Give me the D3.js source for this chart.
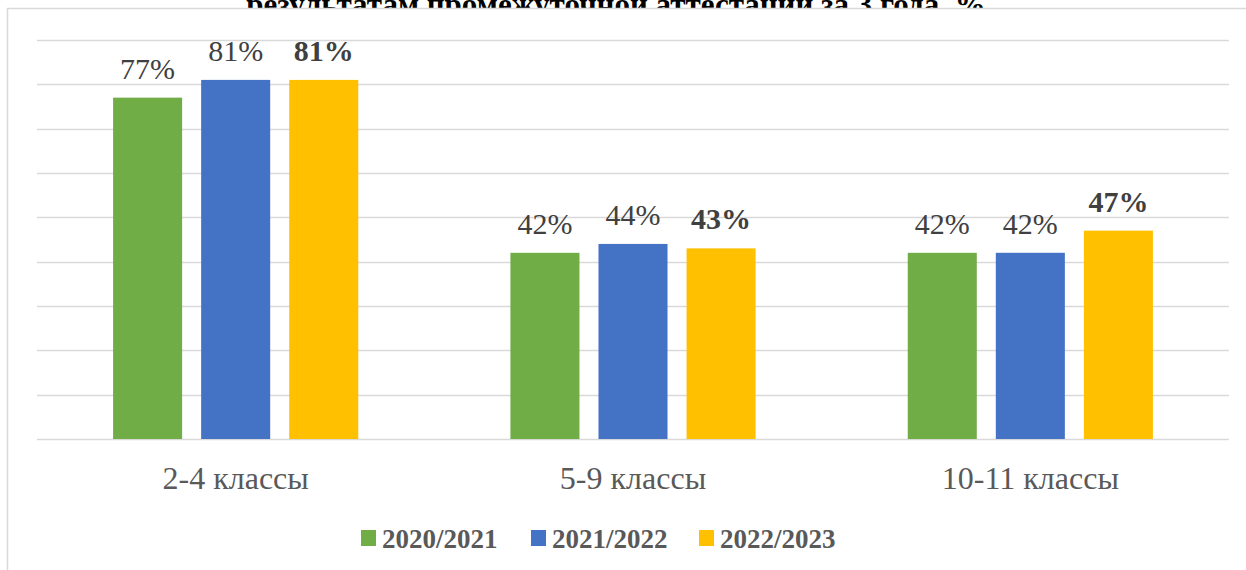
<!DOCTYPE html>
<html>
<head>
<meta charset="utf-8">
<script src="https://cdn.jsdelivr.net/npm/d3@7"></script>
<style>
  body { margin: 0; background: #fff; }
  svg { display: block; }
</style>
</head>
<body>
<div id="container"></div>
<script>
const width = 1246,
  height = 570,
  margin = { top: 40, bottom: 131, left: 37, right: 17 };

const categories = ["2-4 классы", "5-9 классы", "10-11 классы"];
const years = ["2020/2021", "2021/2022", "2022/2023"];
const colors = ["#70ad47", "#4472c4", "#ffc000"];
const values2020 = [77, 42, 42];
const values2021 = [81, 44, 42];
const values2022 = [81, 43, 47];
const series = [values2020, values2021, values2022];
const yTicks = [0, 10, 20, 30, 40, 50, 60, 70, 80, 90];

const serif = '"Liberation Serif"';

const svg = d3.select("#container")
  .append("svg")
  .attr("width", width)
  .attr("height", height)

// title - the chart box covers its lower half, like in the document
svg.append("text")
  .attr("x", 616)
  .attr("y", 15)
  .attr("text-anchor", "middle")
  .style("font-family", serif)
  .style("font-weight", "bold")
  .style("font-size", "31px")
  .style("fill", "#000")
  .text("результатам промежуточной аттестации за 3 года, %")

// chart box
svg.append("rect")
  .attr("x", 7.5)
  .attr("y", 8.5)
  .attr("width", 1400)
  .attr("height", 800)
  .style("fill", "#fff")
  .style("stroke", "#d9d9d9")
  .style("stroke-width", 1.5)

const xScale = d3.scaleBand()
  .domain(categories)
  .range([margin.left, width - margin.right])

const yScale = d3.scaleLinear()
  .domain([0, 90])
  .range([height - margin.bottom, margin.top])

const innerScale = d3.scaleBand()
  .domain(years)
  .range([0, xScale.bandwidth()])
  .paddingInner(0.216)
  .paddingOuter(0.864)

// gridlines
svg.append("g")
  .selectAll("line")
  .data(yTicks)
  .join("line")
  .attr("x1", margin.left)
  .attr("x2", width - margin.right)
  .attr("y1", d => Math.round(yScale(d)) + 0.5)
  .attr("y2", d => Math.round(yScale(d)) + 0.5)
  .style("stroke", "#d9d9d9")
  .style("stroke-width", 1.5)

const groups = svg.append("g")
  .selectAll("g")
  .data(years)
  .join("g")

groups.selectAll("rect")
  .data((y, i) => categories.map((c, j) => ({ c, y, i, v: series[i][j] })))
  .join("rect")
  .attr("x", d => xScale(d.c) + innerScale(d.y))
  .attr("y", d => yScale(d.v))
  .attr("width", innerScale.bandwidth())
  .attr("height", d => yScale(0) - yScale(d.v))
  .style("fill", d => colors[d.i])

groups.selectAll("text")
  .data((y, i) => categories.map((c, j) => ({ c, y, i, v: series[i][j] })))
  .join("text")
  .attr("x", d => xScale(d.c) + innerScale(d.y) + innerScale.bandwidth() / 2)
  .attr("y", d => yScale(d.v) - 19)
  .attr("text-anchor", "middle")
  .style("font-family", serif)
  .style("font-size", "30px")
  .style("font-weight", d => d.i == 2 ? "bold" : "normal")
  .style("fill", "#404040")
  .text(d => d.v + "%")

// category axis
const xAxis = svg.append("g")
  .attr("transform", `translate(0,${height - margin.bottom})`)
  .call(d3.axisBottom(xScale).tickSize(0).tickPadding(27))

xAxis.select(".domain").remove()
xAxis.selectAll("text")
  .style("font-family", serif)
  .style("font-size", "32px")
  .style("fill", "#595959")

// legend
const legendX = [361, 531, 699];
const legend = svg.append("g")
  .selectAll("g")
  .data(years)
  .join("g")
  .attr("transform", (d, i) => `translate(${legendX[i]},530)`)

legend.append("rect")
  .attr("width", 15)
  .attr("height", 16)
  .style("fill", (d, i) => colors[i])

legend.append("text")
  .attr("x", 21)
  .attr("y", 18)
  .style("font-family", serif)
  .style("font-weight", "bold")
  .style("font-size", "27px")
  .style("fill", "#595959")
  .text(d => d)
</script>
</body>
</html>
